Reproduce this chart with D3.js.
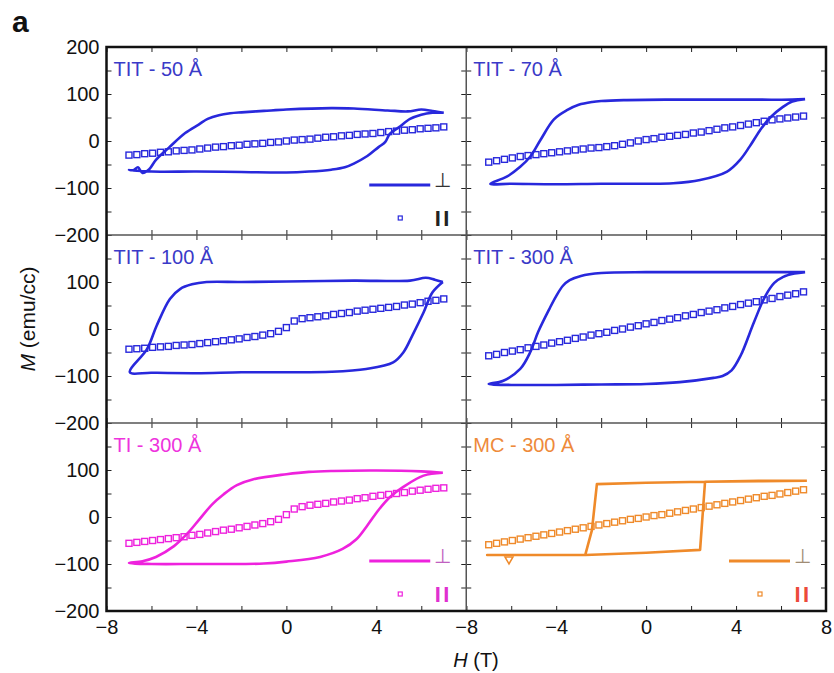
<!DOCTYPE html>
<html>
<head>
<meta charset="utf-8">
<script src="https://cdn.jsdelivr.net/npm/d3@7"></script>
<style>
  body { margin: 0; background: #fff; }
  text { font-family: "Liberation Sans", Arial, Helvetica, sans-serif; }
</style>
</head>
<body>
<svg id="chart" width="834" height="673"></svg>
<script>
// Applied field steps (T) of the in-plane (parallel) sweeps
const fieldSteps = [-7, -6.65, -6.3, -5.95, -5.6, -5.25, -4.9, -4.55, -4.2, -3.85,
  -3.5, -3.15, -2.8, -2.45, -2.1, -1.75, -1.4, -1.05, -0.7, -0.35,
  0, 0.35, 0.7, 1.05, 1.4, 1.75, 2.1, 2.45, 2.8, 3.15,
  3.5, 3.85, 4.2, 4.55, 4.9, 5.25, 5.6, 5.95, 6.3, 6.65, 7];

// In-plane magnetization (emu/cc) at each field step
const parTIT50 = [-30, -29, -27, -26, -24, -23, -21, -20, -19, -17, -15, -13, -12, -10, -9, -7, -6, -5, -3, -2,
  0, 2, 3, 4, 6, 8, 9, 11, 12, 14, 15, 16, 18, 20, 21, 23, 24, 26, 27, 28, 30];
const parTIT70 = [-45, -42, -39, -36, -33, -31, -29, -27, -25, -23, -21, -19, -17, -15, -14, -12, -10, -7, -4, 0,
  3, 5, 8, 10, 12, 14, 17, 19, 22, 25, 28, 30, 33, 36, 39, 42, 45, 47, 49, 51, 53];
const parTIT100 = [-43, -42, -41, -39, -38, -37, -35, -34, -33, -31, -29, -27, -25, -23, -21, -18, -16, -13, -10, -5,
  3, 17, 22, 24, 26, 28, 31, 33, 35, 38, 40, 42, 44, 46, 48, 51, 53, 56, 59, 61, 64];
const parTIT300 = [-57, -54, -50, -47, -44, -40, -37, -34, -30, -27, -24, -20, -17, -13, -10, -7, -3, 0, 4, 7,
  11, 14, 18, 21, 24, 28, 31, 35, 38, 41, 45, 48, 52, 55, 58, 62, 65, 69, 72, 75, 79];
const parTI300 = [-56, -54, -52, -50, -48, -46, -44, -42, -39, -37, -34, -31, -28, -26, -23, -20, -17, -14, -10, -5,
  5, 17, 22, 25, 27, 29, 32, 34, 36, 39, 41, 44, 46, 48, 50, 52, 55, 57, 59, 61, 62];
const parMC300 = [-59, -56, -53, -50, -47, -44, -41, -38, -35, -32, -29, -26, -23, -20, -17, -14, -11, -8, -5, -3,
  0, 3, 5, 8, 11, 14, 17, 20, 23, 26, 29, 32, 35, 38, 41, 44, 46, 49, 52, 55, 58];

// Out-of-plane (perpendicular) loops: [H (T), M (emu/cc)], descending then ascending branch
const perpTIT50 = [[7, 60], [6.5, 64], [6, 67], [5.4, 63], [4.5, 65], [3, 69], [2, 70], [0, 67], [-1, 64], [-2, 61],
  [-2.5, 59], [-3, 55], [-3.5, 47], [-3.9, 35], [-4.5, 17], [-5.2, -13], [-5.8, -40], [-6.1, -60], [-6.4, -68],
  [-6.6, -56], [-6.8, -62], [-7, -62],
  [-6, -65], [-4, -65], [-2, -66], [0, -67], [1, -65], [2, -61], [2.6, -56], [3, -48], [3.6, -32], [4.1, -13],
  [4.4, -2], [4.6, 15], [5, 29], [5.5, 47], [6, 56], [6.5, 60], [7, 60]];
const perpTIT70 = [[7.07, 89], [6.5, 88], [5, 88], [3, 88], [1, 88], [-1, 87], [-2, 85], [-2.4, 83], [-3, 77],
  [-3.5, 66], [-4.1, 46], [-4.7, 2], [-5.15, -33], [-5.6, -55], [-6.2, -76], [-6.93, -91],
  [-6, -91], [-4, -92], [-2, -91], [0, -91], [1.2, -90], [2.4, -83], [3.6, -65], [4.18, -40], [4.6, -12],
  [5.07, 23], [5.5, 49], [6.1, 73], [6.5, 84], [7.07, 89]];
const perpTIT100 = [[6.96, 100], [6.6, 105], [6.2, 109], [5.5, 103], [3, 103], [0, 101], [-2, 100], [-3.55, 100],
  [-4.2, 95], [-4.73, 85], [-5.18, 64], [-5.77, 7], [-6.2, -43], [-6.96, -92],
  [-6, -93], [-4, -94], [-2, -92], [0, -92], [2, -91], [3.55, -85], [4.75, -71], [5.2, -50], [5.6, -14],
  [6.1, 35], [6.5, 78], [6.96, 100]];
const perpTIT300 = [[7.07, 121], [6, 121], [3, 121], [0, 121], [-2, 119], [-2.9, 113], [-3.4, 104], [-3.7, 92],
  [-4, 70], [-4.3, 43], [-4.8, -6], [-5.15, -49], [-5.6, -85], [-6.35, -110], [-7, -117],
  [-6, -119], [-4, -119], [-2, -118], [0, -117], [1.5, -113], [3, -104], [3.4, -100], [3.8, -88], [4.2, -57],
  [4.8, 15], [5.3, 70], [5.7, 98], [6.1, 111], [6.6, 118], [7.07, 121]];
const perpTI300 = [[6.96, 94], [6, 97], [4, 99], [2.07, 98], [1, 96], [0, 91], [-1.5, 80], [-2.2, 68], [-2.8, 48],
  [-3.3, 27], [-3.85, -4], [-4.4, -35], [-5, -62], [-5.8, -85], [-6.4, -94], [-7, -98],
  [-6, -100], [-4, -100], [-2, -100], [-1, -99], [0, -95], [1.5, -85], [2.5, -68], [3.1, -48], [3.6, -18],
  [4.1, 15], [4.6, 42], [5.2, 64], [6.1, 88], [6.96, 94]];
const perpMC300 = [[7.15, 77], [5, 76], [2.62, 75], [0, 73], [-2.19, 70], [-2.41, -28], [-2.71, -81], [-4, -81],
  [-7.07, -81], [-4, -81], [-2.71, -81], [0, -76], [2.4, -70], [2.62, 75], [5, 77], [7.15, 77]];
const markMC300 = [[-6.1, -90]];

const panelTitles = ["TIT - 50 Å", "TIT - 70 Å", "TIT - 100 Å", "TIT - 300 Å", "TI - 300 Å", "MC - 300 Å"];
const panelColors = ["#2828dc", "#2828dc", "#2828dc", "#2828dc", "#ee22dd", "#ef8a2a"];
const titleColors = ["#3a3ac8", "#3a3ac8", "#3a3ac8", "#3a3ac8", "#ee33dd", "#ee8a3a"];

const xTickValues = [-8, -6, -4, -2, 0, 2, 4, 6, 8];
const xTickLabels = [-8, -4, 0, 4, 8];
const yTickValues = [-200, -150, -100, -50, 0, 50, 100, 150, 200];
const yTickLabels = [-200, -100, 0, 100, 200];

const panels = [
  { title: panelTitles[0], color: panelColors[0], tcolor: titleColors[0], perp: perpTIT50, par: parTIT50, row: 0, col: 0,
    legend: { perpSym: "#333", parSym: "#222" } },
  { title: panelTitles[1], color: panelColors[1], tcolor: titleColors[1], perp: perpTIT70, par: parTIT70, row: 0, col: 1 },
  { title: panelTitles[2], color: panelColors[2], tcolor: titleColors[2], perp: perpTIT100, par: parTIT100, row: 1, col: 0 },
  { title: panelTitles[3], color: panelColors[3], tcolor: titleColors[3], perp: perpTIT300, par: parTIT300, row: 1, col: 1 },
  { title: panelTitles[4], color: panelColors[4], tcolor: titleColors[4], perp: perpTI300, par: parTI300, row: 2, col: 0,
    legend: { perpSym: "#c060c0", parSym: "#e030d0" } },
  { title: panelTitles[5], color: panelColors[5], tcolor: titleColors[5], perp: perpMC300, par: parMC300, row: 2, col: 1,
    legend: { perpSym: "#a08c74", parSym: "#ec4a3a" }, linear: true, marks: markMC300 }
];

const frame = { left: 106.5, right: 826, top: 47, bottom: 611 };
const colW = (frame.right - frame.left) / 2;
const rowH = (frame.bottom - frame.top) / 3;

const svg = d3.select("#chart");
const fmt = v => (v < 0 ? "\u2212" + Math.abs(v) : String(v));

panels.forEach(p => {
  const x0 = frame.left + p.col * colW, y0 = frame.top + p.row * rowH;
  const x = d3.scaleLinear().domain([-8, 8]).range([x0, x0 + colW]);
  const y = d3.scaleLinear().domain([-200, 200]).range([y0 + rowH, y0]);
  const g = svg.append("g");

  // inward ticks on all four sides
  const tick = 5;
  g.append("g").attr("transform", `translate(0,${y0 + rowH})`)
    .call(d3.axisBottom(x).tickValues(xTickValues).tickSize(-tick).tickFormat(""));
  g.append("g").attr("transform", `translate(0,${y0})`)
    .call(d3.axisTop(x).tickValues(xTickValues).tickSize(-tick).tickFormat(""));
  g.append("g").attr("transform", `translate(${x0},0)`)
    .call(d3.axisLeft(y).tickValues(yTickValues).tickSize(-tick).tickFormat(""));
  g.append("g").attr("transform", `translate(${x0 + colW},0)`)
    .call(d3.axisRight(y).tickValues(yTickValues).tickSize(-tick).tickFormat(""));
  g.selectAll(".domain").remove();
  g.selectAll(".tick line").attr("stroke", "#222").attr("stroke-width", 1);

  // tick labels on the outer edges
  if (p.col === 0) {
    const labs = yTickLabels.filter(v => p.row === 0 || v < 200);
    const ax = g.append("g").attr("transform", `translate(${x0},0)`)
      .call(d3.axisLeft(y).tickValues(labs).tickSize(0).tickPadding(7).tickFormat(fmt));
    ax.select(".domain").remove();
    ax.selectAll("text").attr("font-size", 20).attr("fill", "#111")
      .attr("font-family", "Liberation Sans, Arial, sans-serif");
  }
  if (p.row === 2) {
    const labs = xTickLabels.filter(v => p.col === 1 || v < 8);
    const ax = g.append("g").attr("transform", `translate(0,${y0 + rowH})`)
      .call(d3.axisBottom(x).tickValues(labs).tickSize(0).tickPadding(9).tickFormat(fmt));
    ax.select(".domain").remove();
    ax.selectAll("text").attr("font-size", 20).attr("fill", "#111")
      .attr("font-family", "Liberation Sans, Arial, sans-serif");
  }

  // perpendicular loop
  const line = d3.line().x(d => x(d[0])).y(d => y(d[1]))
    .curve(p.linear ? d3.curveLinear : d3.curveCatmullRom.alpha(0.5));
  g.append("path").datum(p.perp).attr("d", line)
    .attr("fill", "none").attr("stroke", p.color).attr("stroke-width", 2.6)
    .attr("stroke-linejoin", "round");

  // parallel data: open squares
  const sq = 6;
  g.append("g").selectAll("rect").data(p.par).join("rect")
    .attr("x", (d, i) => x(fieldSteps[i]) - sq / 2)
    .attr("y", d => y(d) - sq / 2)
    .attr("width", sq).attr("height", sq)
    .attr("fill", "none").attr("stroke", p.color).attr("stroke-width", 1.4);

  if (p.marks) {
    g.append("g").selectAll("path").data(p.marks).join("path")
      .attr("transform", d => `translate(${x(d[0])},${y(d[1])}) rotate(180)`)
      .attr("d", d3.symbol(d3.symbolTriangle, 28)())
      .attr("fill", "none").attr("stroke", p.color).attr("stroke-width", 1.5);
  }

  // panel title
  g.append("text").attr("x", x0 + 7).attr("y", y0 + 29)
    .attr("font-size", 20).attr("fill", p.tcolor).text(p.title);

  // legend: perpendicular (line) and parallel (square)
  if (p.legend) {
    const r = x0 + colW;
    const ly1 = y0 + 138, ly2 = y0 + 171;
    g.append("line").attr("x1", r - 97).attr("x2", r - 36).attr("y1", ly1).attr("y2", ly1)
      .attr("stroke", p.color).attr("stroke-width", 2.8);
    g.append("text").attr("x", r - 24).attr("y", ly1 + 2).attr("text-anchor", "middle")
      .attr("font-size", 20).attr("fill", p.legend.perpSym)
      .attr("font-family", "DejaVu Sans, sans-serif").text("\u22A5");
    g.append("rect").attr("x", r - 68).attr("y", ly2 - 2).attr("width", 4).attr("height", 4)
      .attr("fill", "none").attr("stroke", p.color).attr("stroke-width", 1.2);
    g.append("text").attr("x", r - 23).attr("y", ly2 + 8).attr("text-anchor", "middle")
      .attr("font-size", 22).attr("font-weight", "bold").attr("letter-spacing", 2.5)
      .attr("fill", p.legend.parSym).text("II");
  }
});

// frame: inner dividers and outer border
svg.append("line").attr("x1", frame.left + colW).attr("x2", frame.left + colW)
  .attr("y1", frame.top).attr("y2", frame.bottom).attr("stroke", "#555").attr("stroke-width", 1.5);
[1, 2].forEach(k => {
  svg.append("line").attr("x1", frame.left).attr("x2", frame.right)
    .attr("y1", frame.top + k * rowH).attr("y2", frame.top + k * rowH)
    .attr("stroke", "#555").attr("stroke-width", 1.5);
});
svg.append("rect").attr("x", frame.left).attr("y", frame.top)
  .attr("width", frame.right - frame.left).attr("height", frame.bottom - frame.top)
  .attr("fill", "none").attr("stroke", "#111").attr("stroke-width", 2.5);

// axis titles
const yt = svg.append("text").attr("transform", "translate(35,319) rotate(-90)")
  .attr("text-anchor", "middle").attr("font-size", 21).attr("fill", "#111");
yt.append("tspan").attr("font-style", "italic").text("M");
yt.append("tspan").text(" (emu/cc)");

const xt = svg.append("text").attr("x", 476).attr("y", 667)
  .attr("text-anchor", "middle").attr("font-size", 20).attr("fill", "#111");
xt.append("tspan").attr("font-style", "italic").text("H");
xt.append("tspan").text(" (T)");

svg.append("text").attr("x", 12).attr("y", 32).attr("font-size", 30)
  .attr("font-weight", "bold").attr("fill", "#111").text("a");
</script>
</body>
</html>
